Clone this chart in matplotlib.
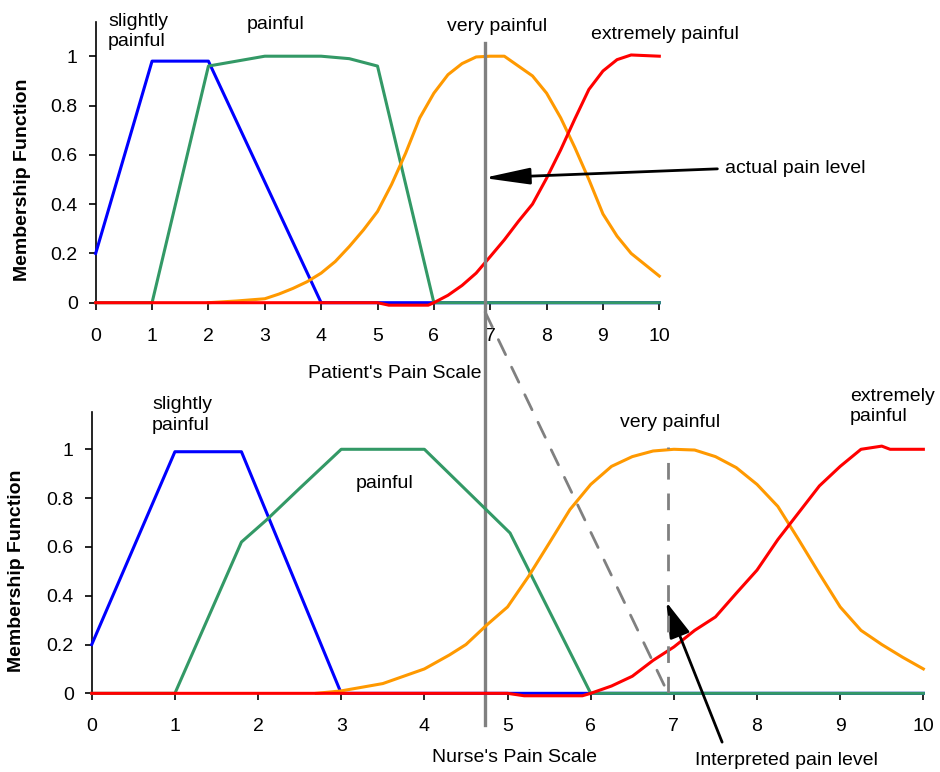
import matplotlib
matplotlib.use("Agg")
import matplotlib.pyplot as plt
from matplotlib.patches import ConnectionPatch

plt.rcParams['font.family'] = ['Liberation Sans', 'DejaVu Sans']

# patient's scale (top)
p_slight_x = [0, 1, 2, 4, 10]
p_slight_y = [0.2, 0.98, 0.98, 0, 0]
p_painful_x = [0, 1, 2, 2.5, 3, 3.5, 4, 4.5, 5, 6, 10]
p_painful_y = [0, 0, 0.96, 0.98, 1.0, 1.0, 1.0, 0.99, 0.96, 0, 0]
p_very_x = [2, 2.5, 3, 3.25, 3.5, 3.75, 4, 4.25, 4.5, 4.75, 5, 5.25, 5.5, 5.75, 6, 6.25, 6.5,
            6.75, 7, 7.25, 7.5, 7.75, 8, 8.25, 8.5, 8.75, 9, 9.25, 9.5, 10]
p_very_y = [0, 0.007, 0.016, 0.035, 0.058, 0.085, 0.12, 0.167, 0.228, 0.295, 0.37, 0.48, 0.607,
            0.75, 0.85, 0.925, 0.97, 0.997, 1.0, 1.0, 0.96, 0.92, 0.85, 0.75, 0.63, 0.5, 0.36,
            0.27, 0.2, 0.108]
p_ext_x = [0, 5, 5.2, 5.9, 6, 6.25, 6.5, 6.75, 7, 7.25, 7.5, 7.75, 8, 8.25, 8.5, 8.75, 9, 9.25,
           9.5, 10]
p_ext_y = [0, 0, -0.01, -0.01, 0, 0.03, 0.07, 0.12, 0.187, 0.255, 0.33, 0.4, 0.505, 0.62, 0.745,
           0.865, 0.94, 0.986, 1.005, 1.0]

# nurse's scale (bottom)
n_slight_x = [0, 1, 1.8, 3, 10]
n_slight_y = [0.2, 0.99, 0.99, 0, 0]
n_painful_x = [0, 1, 1.8, 2.1, 2.5, 3, 4, 5.03, 6, 10]
n_painful_y = [0, 0, 0.62, 0.71, 0.84, 1.0, 1.0, 0.657, 0, 0]
n_very_x = [2.7, 3, 3.5, 4, 4.3, 4.5, 4.75, 5, 5.25, 5.5, 5.75, 6, 6.25, 6.5, 6.75, 7, 7.25,
            7.5, 7.75, 8, 8.25, 8.5, 8.75, 9, 9.25, 9.5, 9.75, 10]
n_very_y = [0, 0.01, 0.04, 0.1, 0.157, 0.2, 0.28, 0.354, 0.478, 0.615, 0.753, 0.856, 0.93, 0.97,
            0.993, 1.0, 0.997, 0.97, 0.925, 0.856, 0.766, 0.63, 0.49, 0.354, 0.258, 0.2, 0.148, 0.1]
n_ext_x = [0, 5, 5.2, 5.9, 6, 6.25, 6.5, 6.75, 7, 7.25, 7.5, 7.75, 8, 8.25, 8.5, 8.75, 9, 9.25,
           9.5, 9.6, 10]
n_ext_y = [0, 0, -0.01, -0.01, 0, 0.03, 0.07, 0.135, 0.19, 0.258, 0.313, 0.41, 0.505, 0.63, 0.74,
           0.85, 0.93, 1.0, 1.013, 1.0, 1.0]

actual_level = 6.91       # on patient's scale
interpreted_level = 6.93  # on nurse's scale

xticks = list(range(11))
yticks = [0, 0.2, 0.4, 0.6, 0.8, 1]
ytick_labels = ['0', '0.2', '0.4', '0.6', '0.8', '1']

BLUE, GREEN, ORANGE, RED, GRAY = '#0000FF', '#339966', '#FF9900', '#FF0000', '#808080'
FS = 14

fig = plt.figure(figsize=(9.4, 7.72), dpi=100)
ax1 = fig.add_axes([0.1018, 0.6079, 0.5996, 0.364])
ax2 = fig.add_axes([0.0976, 0.1019, 0.8847, 0.3648])


def style(ax, ytop):
    ax.set_facecolor('none')
    ax.set_xlim(0, 10)
    ax.set_ylim(0, ytop)
    ax.spines['top'].set_visible(False)
    ax.spines['right'].set_visible(False)
    for s in ['left', 'bottom']:
        ax.spines[s].set_linewidth(1.2)
    ax.set_xticks(xticks)
    ax.set_yticks(yticks)
    ax.set_yticklabels(ytick_labels)
    ax.tick_params(axis='x', length=5, width=1.2, pad=13, labelsize=FS)
    ax.tick_params(axis='y', length=5, width=1.2, pad=8, labelsize=FS)
    ax.set_ylabel('Membership Function', fontsize=14, fontweight='bold')


for ax, data, ytop in [
    (ax1, [(p_slight_x, p_slight_y, BLUE), (p_painful_x, p_painful_y, GREEN),
           (p_very_x, p_very_y, ORANGE), (p_ext_x, p_ext_y, RED)], 1.14),
    (ax2, [(n_slight_x, n_slight_y, BLUE), (n_painful_x, n_painful_y, GREEN),
           (n_very_x, n_very_y, ORANGE), (n_ext_x, n_ext_y, RED)], 1.154),
]:
    style(ax, ytop)
    for x, y, c in data:
        ax.plot(x, y, color=c, lw=2.2, clip_on=False, zorder=3)

ax1.yaxis.set_label_coords(-0.115, 0.438)
ax2.yaxis.set_label_coords(-0.08, 0.436)

ax1.set_xlabel("Patient's Pain Scale", fontsize=FS)
ax1.xaxis.set_label_coords(0.531, -0.22)
ax2.set_xlabel("Nurse's Pain Scale", fontsize=FS)
ax2.xaxis.set_label_coords(0.508, -0.198)

# labels top
ax1.text(0.22, 1.1, 'slightly\npainful', fontsize=FS, ha='left', va='center', linespacing=1.25)
ax1.text(3.2, 1.13, 'painful', fontsize=FS, ha='center', va='center')
ax1.text(7.12, 1.12, 'very painful', fontsize=FS, ha='center', va='center', clip_on=False)
ax1.text(10.1, 1.09, 'extremely painful', fontsize=FS, ha='center', va='center', clip_on=False)

# labels bottom
ax2.text(0.725, 1.14, 'slightly\npainful', fontsize=FS, ha='left', va='center', linespacing=1.25)
ax2.text(3.52, 0.86, 'painful', fontsize=FS, ha='center', va='center')
ax2.text(6.95, 1.108, 'very painful', fontsize=FS, ha='center', va='center')
ax2.text(9.12, 1.175, 'extremely\npainful', fontsize=FS, ha='left', va='center', linespacing=1.25,
         clip_on=False)

# actual pain level: vertical line through both panels
ax1.plot([actual_level, actual_level], [1.055, -1.713], color=GRAY, lw=2.4, clip_on=False, zorder=5)
ax1.annotate('', xy=(6.88, 0.506), xytext=(11.03, 0.543),
             arrowprops=dict(arrowstyle='-|>,head_length=2.8,head_width=0.5', lw=2,
                             color='black', mutation_scale=10, shrinkA=0, shrinkB=0),
             annotation_clip=False)
ax1.text(11.17, 0.543, 'actual pain level', fontsize=FS, ha='left', va='center', clip_on=False)

# mapping to nurse's scale
con = ConnectionPatch(xyA=(actual_level, -0.038), coordsA=ax1.transData,
                      xyB=(interpreted_level, 0), coordsB=ax2.transData,
                      color=GRAY, lw=2.0, linestyle=(0, (6, 5)), zorder=4)
fig.add_artist(con)
ax2.plot([interpreted_level, interpreted_level], [0, 1.01], color=GRAY, lw=2.0,
         linestyle=(0, (6, 5)), zorder=4)

ax2.annotate('', xy=(interpreted_level - 0.02, 0.374), xytext=(7.58, -0.2),
             arrowprops=dict(arrowstyle='-|>,head_length=2.2,head_width=0.65', lw=2,
                             color='black', mutation_scale=10, shrinkA=0, shrinkB=0),
             annotation_clip=False)
ax2.text(7.26, -0.275, 'Interpreted pain level', fontsize=FS, ha='left', va='center', clip_on=False)

fig.savefig('out.png', dpi=100)
